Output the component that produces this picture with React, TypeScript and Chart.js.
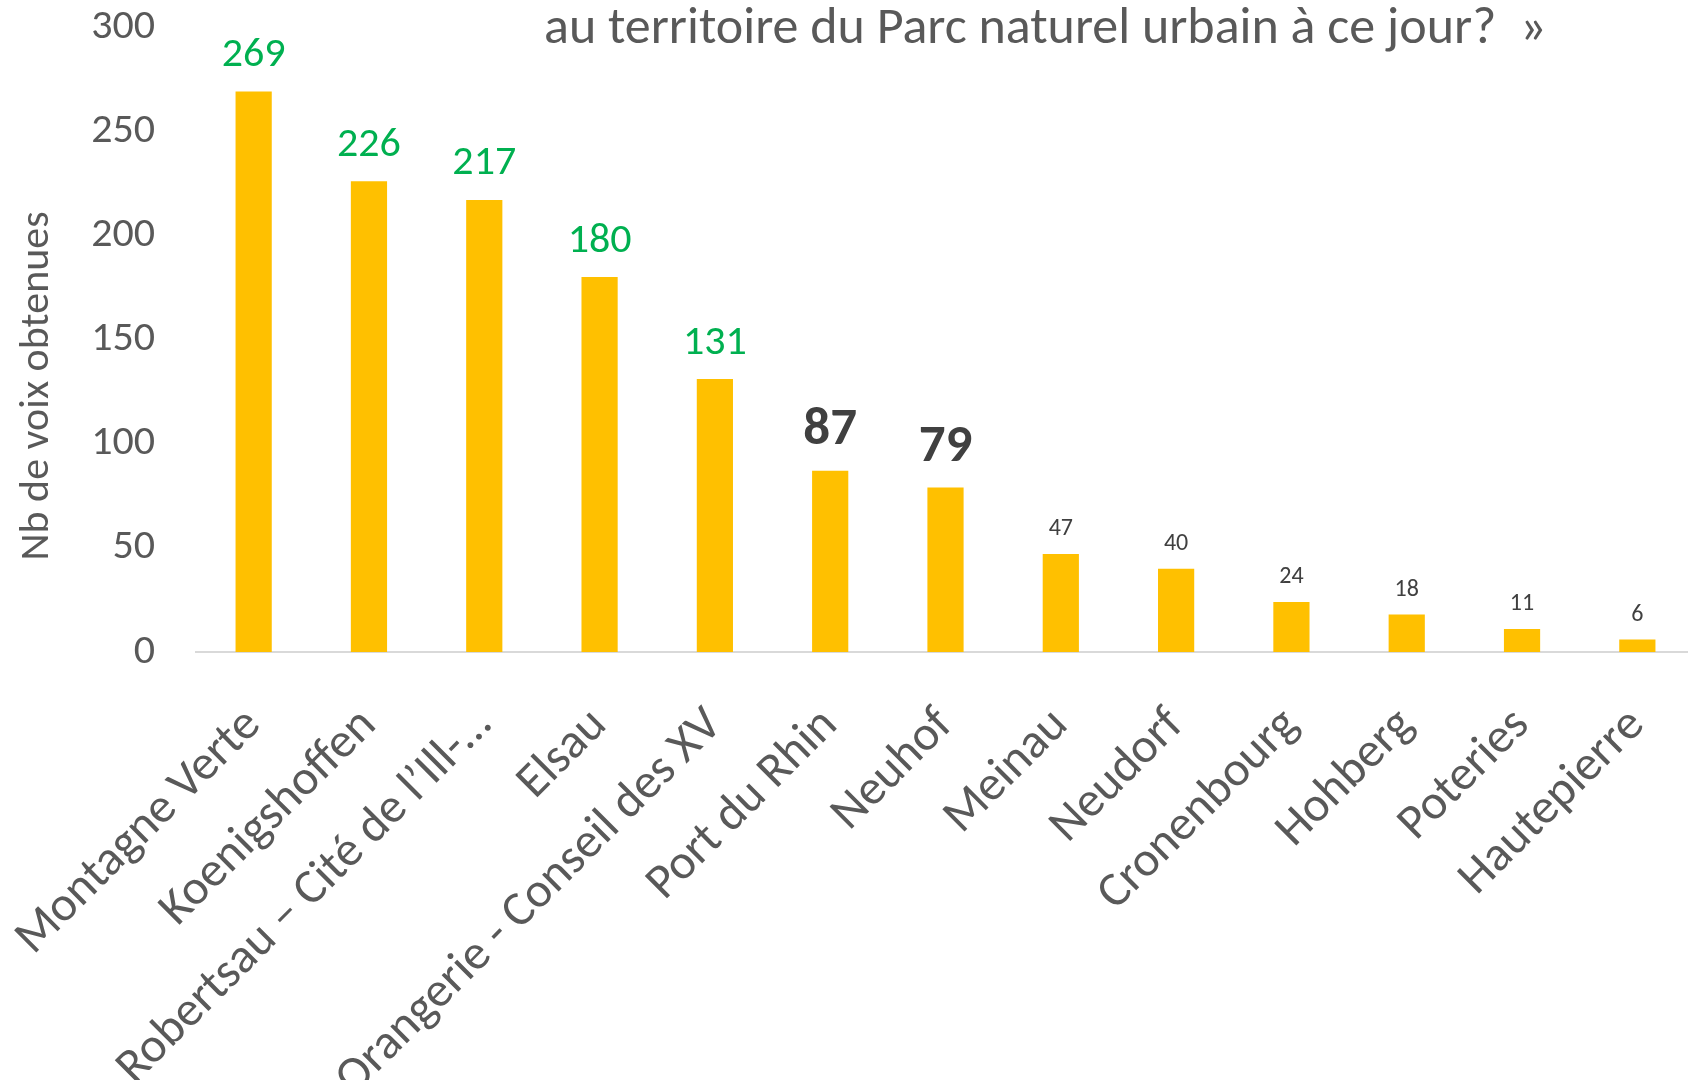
import React, { useEffect, useRef } from "react";
import { Chart, registerables } from "chart.js";

Chart.register(...registerables);

const categories = [
  "Montagne Verte",
  "Koenigshoffen",
  "Robertsau – Cité de l’Ill-…",
  "Elsau",
  "Orangerie - Conseil des XV",
  "Port du Rhin",
  "Neuhof",
  "Meinau",
  "Neudorf",
  "Cronenbourg",
  "Hohberg",
  "Poteries",
  "Hautepierre",
];
const votes = [269, 226, 217, 180, 131, 87, 79, 47, 40, 24, 18, 11, 6];
const yTickValues = [0, 50, 100, 150, 200, 250, 300];
const titleText = "au territoire du Parc naturel urbain à ce jour?  »";
const yAxisTitle = "Nb de voix obtenues";

const FONT = "Carlito, Lato, sans-serif";

function labelStyle(i: number) {
  if (i < 5) return { font: `400 42px ${FONT}`, color: "#00B050", offset: 36 };
  if (i < 7) return { font: `700 53px ${FONT}`, color: "#404040", offset: 40 };
  return { font: `400 24px ${FONT}`, color: "#404040", offset: 25 };
}

const dataLabelPlugin = {
  id: "dataLabels",
  afterDatasetsDraw(chart: any) {
    const meta = chart.getDatasetMeta(0);
    const ctx = chart.ctx;
    meta.data.forEach((bar: any, i: number) => {
      const st = labelStyle(i);
      ctx.save();
      ctx.font = st.font;
      ctx.fillStyle = st.color;
      ctx.textAlign = "center";
      ctx.textBaseline = "middle";
      ctx.fillText(String(votes[i]), bar.x, bar.y - st.offset);
      ctx.restore();
    });
  },
};

const textPlugin = {
  id: "texts",
  afterDraw(chart: any) {
    const ctx = chart.ctx;
    ctx.save();
    ctx.fillStyle = "#595959";
    ctx.font = `400 52px ${FONT}`;
    ctx.textAlign = "left";
    ctx.textBaseline = "alphabetic";
    ctx.fillText(titleText, 544, 43);
    ctx.translate(37, 386);
    ctx.rotate(-Math.PI / 2);
    ctx.font = `400 42px ${FONT}`;
    ctx.textAlign = "center";
    ctx.textBaseline = "middle";
    ctx.fillText(yAxisTitle, 0, 0);
    ctx.restore();
  },
};

export default function App() {
  const ref = useRef<HTMLCanvasElement | null>(null);
  useEffect(() => {
    document.body.style.margin = "0";
    const canvas = ref.current!;
    const chart = new Chart(canvas, {
      type: "bar",
      data: {
        labels: categories,
        datasets: [
          {
            data: votes,
            backgroundColor: "#FFC000",
            barPercentage: 0.314,
            categoryPercentage: 1,
          },
        ],
      },
      options: {
        responsive: false,
        animation: false,
        layout: { padding: { top: 27, right: 0, left: 0, bottom: 0 } },
        plugins: { legend: { display: false }, tooltip: { enabled: false }, title: { display: false } },
        scales: {
          x: {
            grid: { display: false, drawTicks: false },
            border: { display: true, color: "#D9D9D9", width: 2 },
            ticks: {
              autoSkip: false,
              maxRotation: 45,
              minRotation: 45,
              padding: 45,
              color: "#595959",
              font: { family: FONT, size: 49 },
            },
            afterFit: (s: any) => {
              s.height = 428;
              s.paddingLeft = 0;
              s.paddingRight = 0;
            },
          },
          y: {
            min: 0,
            max: 300,
            afterBuildTicks: (s: any) => {
              s.ticks = yTickValues.map((v) => ({ value: v }));
            },
            grid: { display: false, drawTicks: false },
            border: { display: false },
            ticks: {
              padding: 41,
              color: "#595959",
              font: { family: FONT, size: 42 },
            },
            afterFit: (s: any) => {
              s.width = 196;
              s.paddingTop = 0;
              s.paddingBottom = 0;
            },
          },
        },
      },
      plugins: [dataLabelPlugin, textPlugin],
    });
    return () => chart.destroy();
  }, []);
  return (
    <div style={{ width: 1688, height: 1080, overflow: "hidden" }}>
      <canvas ref={ref} width={1695} height={1080} style={{ display: "block" }} />
    </div>
  );
}
